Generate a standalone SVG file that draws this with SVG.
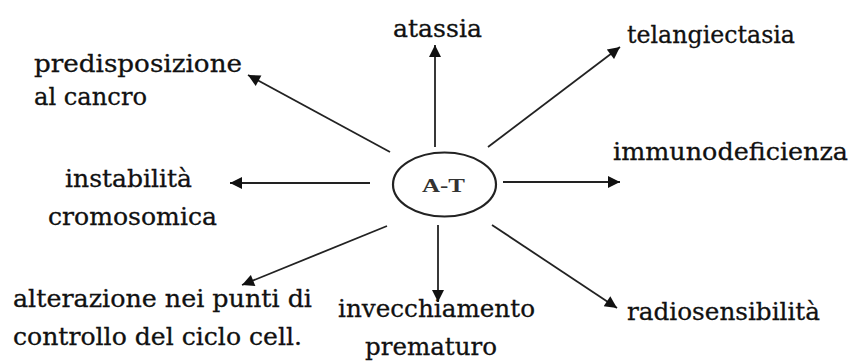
<svg xmlns="http://www.w3.org/2000/svg" width="851" height="364" viewBox="0 0 851 364">
<defs>
<marker id="ah" viewBox="0 0 10 10" refX="10" refY="5" markerWidth="15" markerHeight="12" markerUnits="userSpaceOnUse" orient="auto">
<path d="M0,0 L10,5 L0,10 z" fill="#111"/>
</marker>
<style>
.lbl{font-family:"DejaVu Serif","Liberation Serif",serif;font-size:25px;fill:#111;stroke:#111;stroke-width:0.3}
.ctr{font-family:"Liberation Serif",serif;font-size:19px;font-weight:bold;fill:#333}
.c{stroke:#222;stroke-width:1.8;fill:none;marker-end:url(#ah)}
</style>
</defs>
<rect width="851" height="364" fill="#fff"/>
<g id="connectors">
<line class="c" x1="435" y1="147" x2="435" y2="45"/>
<line class="c" x1="488" y1="147" x2="620" y2="47"/>
<line class="c" x1="390" y1="152" x2="248" y2="75"/>
<line class="c" x1="370" y1="183" x2="230" y2="183"/>
<line class="c" x1="503" y1="182" x2="620" y2="182"/>
<line class="c" x1="387" y1="226" x2="242" y2="285"/>
<line class="c" x1="438" y1="225" x2="438" y2="302"/>
<line class="c" x1="492" y1="225" x2="617" y2="308"/>
</g>
<g id="node-at">
<ellipse cx="444.5" cy="184.5" rx="51.5" ry="32" fill="#fff" stroke="#222" stroke-width="2.2"/>
<text class="ctr" x="422" y="192" textLength="43" lengthAdjust="spacingAndGlyphs">A-T</text>
</g>
<g id="node-atassia"><text class="lbl" x="393" y="37" textLength="89" lengthAdjust="spacingAndGlyphs">atassia</text></g>
<g id="node-telangiectasia"><text class="lbl" x="627" y="43" textLength="168" lengthAdjust="spacingAndGlyphs">telangiectasia</text></g>
<g id="node-predisposizione">
<text class="lbl" x="34" y="72" textLength="208" lengthAdjust="spacingAndGlyphs">predisposizione</text>
<text class="lbl" x="34" y="105" textLength="113" lengthAdjust="spacingAndGlyphs">al cancro</text>
</g>
<g id="node-immunodeficienza"><text class="lbl" x="613" y="160" textLength="235" lengthAdjust="spacingAndGlyphs">immunodeficienza</text></g>
<g id="node-instabilita">
<text class="lbl" x="65" y="187" textLength="127" lengthAdjust="spacingAndGlyphs">instabilità</text>
<text class="lbl" x="48" y="225" textLength="169" lengthAdjust="spacingAndGlyphs">cromosomica</text>
</g>
<g id="node-alterazione">
<text class="lbl" x="13" y="307" textLength="299" lengthAdjust="spacingAndGlyphs">alterazione nei punti di</text>
<text class="lbl" x="13" y="345" textLength="289" lengthAdjust="spacingAndGlyphs">controllo del ciclo cell.</text>
</g>
<g id="node-invecchiamento">
<text class="lbl" x="338" y="317" textLength="197" lengthAdjust="spacingAndGlyphs">invecchiamento</text>
<text class="lbl" x="365" y="355" textLength="132" lengthAdjust="spacingAndGlyphs">prematuro</text>
</g>
<g id="node-radiosensibilita"><text class="lbl" x="627" y="320" textLength="193" lengthAdjust="spacingAndGlyphs">radiosensibilità</text></g>
</svg>
